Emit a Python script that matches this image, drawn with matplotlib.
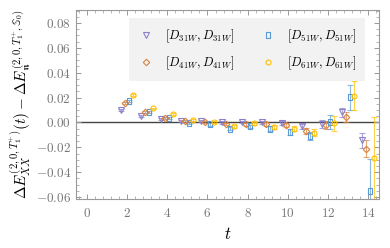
import numpy as np
import matplotlib
matplotlib.use("Agg")
import matplotlib.pyplot as plt
from matplotlib.ticker import MultipleLocator

plt.rcParams['mathtext.fontset'] = 'cm'
plt.rcParams['font.family'] = 'serif'
plt.rcParams['font.serif'] = ['cmr10', 'DejaVu Serif']
plt.rcParams['axes.formatter.use_mathtext'] = True

t = np.arange(2, 15)
labels = [r"$[D_{31W},D_{31W}]$", r"$[D_{41W},D_{41W}]$",
          r"$[D_{51W},D_{51W}]$", r"$[D_{61W},D_{61W}]$"]
offsets = [-0.3, -0.1, 0.1, 0.3]

d31 = [0.0100, 0.0053, 0.0027, 0.0013, 0.0010, 0.0000, 0.0005, 0.0000, -0.0008, -0.0032, -0.0014, 0.0081, -0.0143]
d41 = [0.0154, 0.0081, 0.0035, 0.0013, 0.0005, -0.0014, -0.0014, -0.0014, -0.0022, -0.0068, -0.0020, 0.0046, -0.0210]
d51 = [0.0175, 0.0080, 0.0035, -0.0008, -0.0016, -0.0049, -0.0032, -0.0049, -0.0076, -0.0108, 0.0005, 0.0202, -0.0548]
d61 = [0.0223, 0.0113, 0.0070, 0.0019, 0.0002, -0.0032, -0.0008, -0.0040, -0.0049, -0.0081, -0.0008, 0.0216, -0.0284]

e31 = [0.0008, 0.0007, 0.0007, 0.0007, 0.0008, 0.0009, 0.0010, 0.0013, 0.0016, 0.0022, 0.0030, 0.0035, 0.0060]
e41 = [0.0008, 0.0007, 0.0007, 0.0007, 0.0008, 0.0009, 0.0011, 0.0014, 0.0018, 0.0025, 0.0035, 0.0040, 0.0070]
e51 = [0.0009, 0.0008, 0.0008, 0.0008, 0.0009, 0.0011, 0.0013, 0.0017, 0.0024, 0.0035, 0.0055, 0.0100, 0.0250]
e61 = [0.0008, 0.0007, 0.0007, 0.0007, 0.0008, 0.0010, 0.0012, 0.0016, 0.0022, 0.0032, 0.0060, 0.0120, 0.0330]

values = [d31, d41, d51, d61]
errors = [e31, e41, e51, e61]
colors = ['#8B7FC7', '#D9823B', '#5B9BD5', '#FFC000']
rect = [(-0.3, -0.5), (0.3, -0.5), (0.3, 0.5), (-0.3, 0.5), (-0.3, -0.5)]
markers = ['v', 'D', rect, 'o']
msizes = [4, 3.3, 4.3, 3.6]

fig = plt.figure(figsize=(3.9, 2.48), dpi=100)
ax = fig.add_axes([0.195, 0.198, 0.777, 0.762])

ax.axhline(0, color='#444444', lw=1.0, zorder=1)

handles = []
for v, e, c, m, ms, off, lab in zip(values, errors, colors, markers, msizes, offsets, labels):
    ax.errorbar(t + off, v, yerr=e, fmt='none', ecolor=c, elinewidth=0.8,
                capsize=2.2, capthick=0.8, alpha=0.7, zorder=2)
    p, = ax.plot(t + off, v, linestyle='none', marker=m, ms=ms, mfc='none',
                 mec=c, mew=0.8, label=lab, zorder=3)
    handles.append(p)

ax.set_xlim(-0.55, 14.55)
ax.set_ylim(-0.0615, 0.0905)
ax.xaxis.set_major_locator(MultipleLocator(2))
ax.xaxis.set_minor_locator(MultipleLocator(0.4))
ax.yaxis.set_major_locator(MultipleLocator(0.02))
ax.yaxis.set_minor_locator(MultipleLocator(0.005))
ax.yaxis.set_major_formatter(plt.FuncFormatter(lambda y, _: r"$%.2f$" % y if abs(y) > 1e-9 else r"$0.00$"))

for s in ax.spines.values():
    s.set_color('#999999')
    s.set_linewidth(0.8)
ax.tick_params(which='both', direction='in', top=True, right=True, color='#999999',
               labelcolor='#777777', labelsize=9.5)
ax.tick_params(which='major', length=3.5, width=0.7)
ax.tick_params(which='minor', length=2, width=0.5)
ax.tick_params(axis='x', pad=6)

ax.set_xlabel(r"$t$", fontsize=12)
ax.set_ylabel(r"$\Delta E^{(2,0,T_1^{+})}_{XX}(t) - \Delta E^{(2,0,T_1^{+},\mathbb{S}_0)}_{\mathfrak{n}}$",
              fontsize=11, labelpad=2)

leg = ax.legend(handles=handles, ncol=2, loc='upper left', bbox_to_anchor=(0.175, 0.955),
                frameon=True, fancybox=False, fontsize=9, handlelength=1.3, handletextpad=0.9,
                borderpad=0.7, labelspacing=0.8, columnspacing=2.0, borderaxespad=0)
leg.get_frame().set_facecolor('#F2F2F2')
leg.get_frame().set_edgecolor('none')
leg.get_frame().set_alpha(1)

fig.savefig('out.png', dpi=100)
